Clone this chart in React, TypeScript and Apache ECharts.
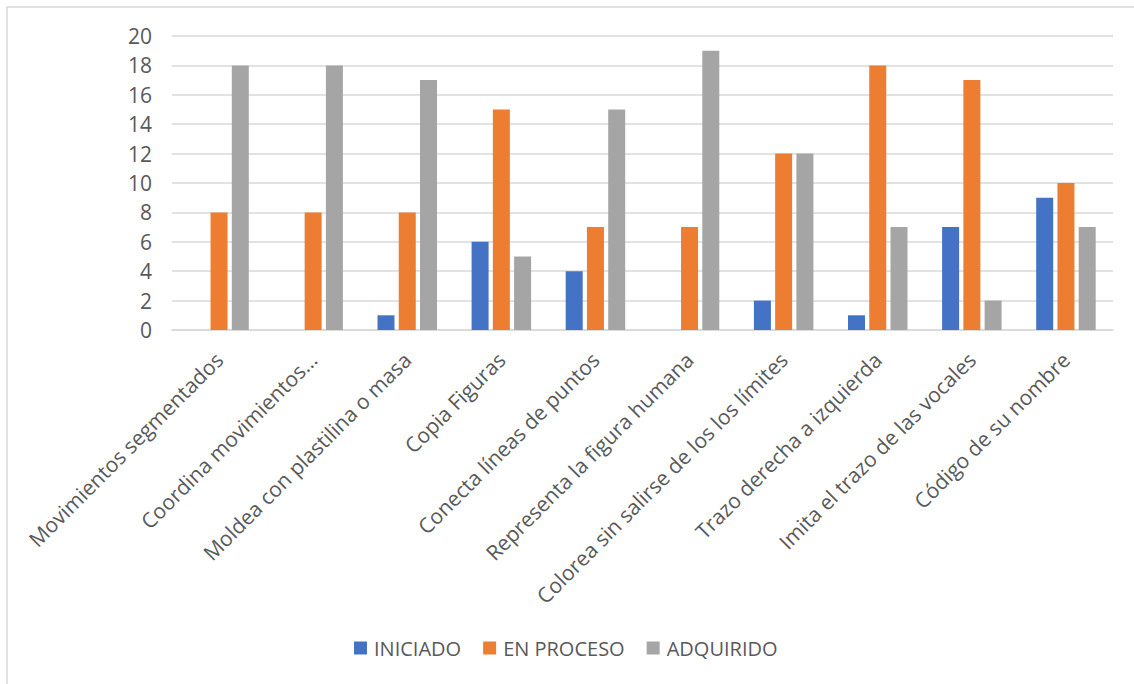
import React, { useEffect, useRef } from "react";
import * as echarts from "echarts";

const categories = [
  "Movimientos segmentados",
  "Coordina movimientos…",
  "Moldea con plastilina o masa",
  "Copia Figuras",
  "Conecta líneas de puntos",
  "Representa la figura humana",
  "Colorea sin salirse de los los límites",
  "Trazo derecha a izquierda",
  "Imita el trazo de las vocales",
  "Código de su nombre",
];
const iniciado = [0, 0, 1, 6, 4, 0, 2, 1, 7, 9];
const enProceso = [8, 8, 8, 15, 7, 7, 12, 18, 17, 10];
const adquirido = [18, 18, 17, 5, 15, 19, 12, 7, 2, 7];

const FONT = "'Open Sans', sans-serif";
const TEXT = "#595959";

export default function App() {
  const ref = useRef<HTMLDivElement>(null);
  useEffect(() => {
    const chart = echarts.init(ref.current!, null, { renderer: "svg" });
    const mk = (name: string, data: number[], color: string) => ({
      name,
      type: "bar",
      data,
      barWidth: 17,
      barGap: "25%",
      itemStyle: { color },
    });
    chart.setOption({
      animation: false,
      textStyle: { fontFamily: FONT },
      graphic: [
        {
          type: "rect",
          shape: { x: 7, y: 7, width: 1140, height: 700 },
          style: { fill: "none", stroke: "#d9d9d9", lineWidth: 1.5 },
          silent: true,
        },
      ],
      grid: { left: 172, right: 21, top: 36, bottom: 354 },
      legend: {
        left: 349,
        top: 633,
        itemWidth: 13,
        itemHeight: 13,
        itemGap: 22,
        icon: "rect",
        textStyle: { color: TEXT, fontSize: 20, fontFamily: FONT, padding: [0, 0, 0, 2] },
        data: ["INICIADO", "EN PROCESO", "ADQUIRIDO"],
      },
      xAxis: {
        type: "category",
        data: categories,
        axisLine: { lineStyle: { color: "#d9d9d9", width: 1.5 } },
        axisTick: { show: false },
        axisLabel: {
          rotate: 45,
          interval: 0,
          margin: 26,
          color: TEXT,
          fontSize: 21,
          fontFamily: FONT,
        },
      },
      yAxis: {
        type: "value",
        min: 0,
        max: 20,
        interval: 2,
        axisLine: { show: false },
        axisTick: { show: false },
        splitLine: { lineStyle: { color: "#d9d9d9", width: 1.5 } },
        axisLabel: { color: TEXT, fontSize: 21, margin: 20, fontFamily: FONT },
      },
      series: [
        mk("INICIADO", iniciado, "#4472C4"),
        mk("EN PROCESO", enProceso, "#ED7D31"),
        mk("ADQUIRIDO", adquirido, "#A5A5A5"),
      ],
    });
    return () => chart.dispose();
  }, []);
  return (
    <div
      ref={ref}
      style={{ position: "absolute", left: 0, top: 0, width: 1134, height: 684, background: "#fff" }}
    />
  );
}
